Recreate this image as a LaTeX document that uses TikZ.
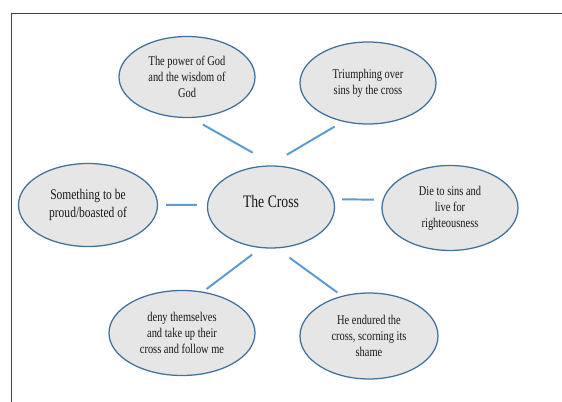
\documentclass[tikz,border=0pt]{standalone}
\usepackage{fontspec}
\setmainfont[FakeStretch=0.78]{Liberation Serif}
\usetikzlibrary{shapes.geometric}
\definecolor{bubblefill}{HTML}{E7E6E6}
\definecolor{bubbleline}{HTML}{41719C}
\definecolor{spokeblue}{HTML}{5B9BD5}
\definecolor{frameline}{HTML}{404040}

\begin{document}
\begin{tikzpicture}[
    bubble/.style={ellipse, draw=bubbleline, line width=0.9pt, fill=bubblefill, align=center, text=black!90, inner sep=1pt, font=\rmfamily\fontsize{9.5}{11.5}\selectfont},
    link/.style={draw=spokeblue, line width=1.4pt}
]

\useasboundingbox (0,0) rectangle (14.05,10.05);

% ================= Frame =================

\draw[frameline, line width=0.7pt] (0.2875,0) -- (0.2875,9.725) -- (14.05,9.725);

% ================= Nodes =================

% Centre
\node[bubble, minimum width=3.175cm, minimum height=2.05cm, font=\rmfamily\fontsize{12.5}{15}\selectfont, text depth=0.3cm] (cross) at (6.775, 4.875) {The Cross};

% Upper row
\node[bubble, minimum width=3.4cm, minimum height=2.025cm] (power) at (4.675, 8.125) {The power of God \\ and the wisdom of \\ God};
\node[bubble, minimum width=3.4cm, minimum height=2.05cm] (triumph) at (9.2, 7.975) {Triumphing over \\ sins by the cross};

% Middle row
\node[bubble, minimum width=3.475cm, minimum height=2.075cm, font=\rmfamily\fontsize{10.5}{12.5}\selectfont] (boast) at (2.2, 4.925) {Something to be \\ proud/boasted of};
\node[bubble, minimum width=3.4cm, minimum height=2.125cm] (die) at (11.25, 4.85) {Die to sins and \\ live for \\ righteousness};

% Lower row
\node[bubble, minimum width=3.65cm, minimum height=2.125cm] (deny) at (4.55, 1.725) {deny themselves \\ and take up their \\ cross and follow me};
\node[bubble, minimum width=3.45cm, minimum height=2.15cm] (endured) at (9.225, 1.65) {He endured the \\ cross, scorning its \\ shame};

% ================= Edges =================

\draw[link, shorten <=0.33cm, shorten >=0.65cm] (power.-84) -- (cross.84);
\draw[link, shorten <=0.24cm, shorten >=0.52cm] (triumph.-123) -- (cross.93);
\draw[link, shorten <=0.2cm, shorten >=0.25cm] (boast.0) -- (cross.178);
\draw[link, shorten <=0.2cm, shorten >=0.22cm] (cross.7) -- (die.173);
\draw[link, shorten <=0.27cm, shorten >=0.11cm] (cross.-104) -- (deny.63);
\draw[link, shorten <=0.39cm, shorten >=0.14cm] (cross.-82) -- (endured.124);

\end{tikzpicture}
\end{document}
